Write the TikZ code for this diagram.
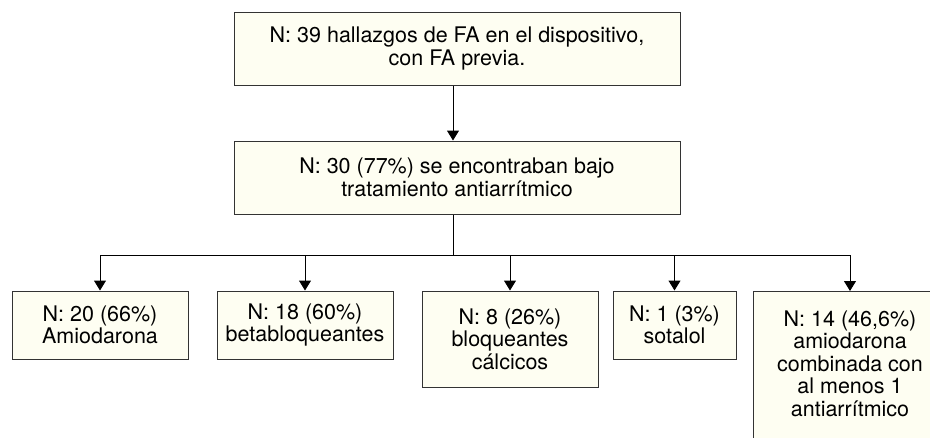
\documentclass[tikz,border=0pt]{standalone}
\usepackage{fontspec}
\setmainfont{TeX Gyre Heros}
\usetikzlibrary{arrows.meta}
\definecolor{boxfill}{HTML}{FEFEF2}
\definecolor{boxline}{HTML}{333333}
\begin{document}
\begin{tikzpicture}[x=1pt,y=-1pt,
  box/.style={draw=boxline,fill=boxfill,line width=1pt,align=center,
    font=\fontsize{21.5}{22.5}\selectfont,inner sep=0pt},
  arr/.style={line width=1pt,-{Triangle[width=12pt,length=10pt]}},
  conn/.style={line width=1pt}]
\useasboundingbox (0,0) rectangle (930,437);
\clip (0,0) rectangle (930,437);
\node[box,minimum width=446pt,minimum height=73pt] (top) at (457,48.5)
  {N: 39 hallazgos de FA en el dispositivo,\\con FA previa.};
\node[box,minimum width=446pt,minimum height=73pt] (mid) at (457,177.5)
  {N: 30 (77\%) se encontraban bajo\\tratamiento antiarrítmico};
\node[box,minimum width=176pt,minimum height=68pt] (b1) at (100,325)
  {N: 20 (66\%)\\Amiodarona};
\node[box,minimum width=176pt,minimum height=68pt] (b2) at (305,325)
  {N: 18 (60\%)\\betabloqueantes};
\node[box,minimum width=176pt,minimum height=96pt] (b3) at (510,339)
  {N: 8 (26\%)\\bloqueantes\\cálcicos};
\node[box,minimum width=123pt,minimum height=68pt] (b4) at (674.5,325)
  {N: 1 (3\%)\\sotalol};
\node[box,minimum width=194pt,inner ysep=19pt,anchor=north] (b5) at (850,291)
  {N: 14 (46,6\%)\\amiodarona\\combinada con\\al menos 1\\antiarrítmico\rule[-25pt]{0pt}{25pt}};
\coordinate (split) at ([xshift=-4pt]mid.south |- 0,255);
\draw[arr] ([xshift=-4pt]top.south) -- ([xshift=-4pt]mid.north);
\draw[conn] ([xshift=-4pt]mid.south) -- (split);
\draw[arr] (split) -| (b1.north);
\draw[arr] (split) -| (b2.north);
\draw[arr] (split) -| (b3.north);
\draw[arr] (split) -| (b4.north);
\draw[arr] (split) -| (b5.north);
\end{tikzpicture}
\end{document}
